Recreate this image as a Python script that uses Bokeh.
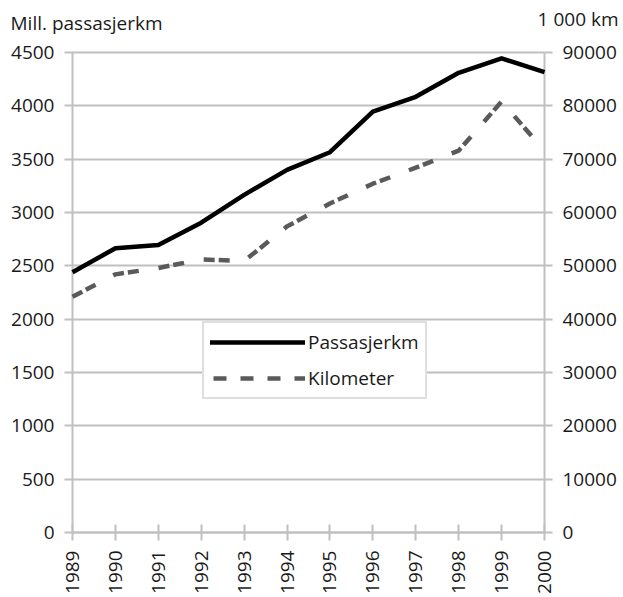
import math
from bokeh.plotting import figure
from bokeh.models import (Range1d, LinearAxis, FixedTicker, Legend, LegendItem, Label)
from bokeh.embed import file_html
from bokeh.resources import INLINE

# ---- data ----
years = [1989, 1990, 1991, 1992, 1993, 1994, 1995, 1996, 1997, 1998, 1999, 2000]
passasjerkm = [2440, 2665, 2695, 2905, 3165, 3400, 3565, 3945, 4085, 4310, 4445, 4315]
kilometer = [44200, 48400, 49600, 51200, 50900, 57400, 61700, 65400, 68400, 71600, 80800, 71600]
left_ticks = [0, 500, 1000, 1500, 2000, 2500, 3000, 3500, 4000, 4500]
right_ticks = [0, 10000, 20000, 30000, 40000, 50000, 60000, 70000, 80000, 90000]
left_title = "Mill. passasjerkm"
right_title = "1 000 km"
series_names = ["Passasjerkm", "Kilometer"]

# ---- layout / style ----
W, H = 623, 597
PL, PR, PT, PB = 72, 544, 52, 532      # plot area in page pixels
FONT = "Open Sans"
FS = "19px"
GRID = "#c0c0c0"
GRAY = "#5a5a5a"
TXT = "#1a1a1a"

x0, x1 = years[0], years[-1]
y0, y1 = left_ticks[0], left_ticks[-1]
k0, k1 = right_ticks[0], right_ticks[-1]
xpp = (x1 - x0) / (PR - PL)
ypp = (y1 - y0) / (PB - PT)
kpp = (k1 - k0) / (PB - PT)

p = figure(width=W, height=H, output_backend="svg", toolbar_location=None,
           x_range=Range1d(x0 - PL * xpp, x1 + (W - PR) * xpp),
           y_range=Range1d(y0 - (H - PB) * ypp, y1 + PT * ypp),
           min_border_left=0, min_border_right=0, min_border_top=0, min_border_bottom=0,
           x_axis_location=None, y_axis_location=None)
p.extra_y_ranges = {"km": Range1d(k0 - (H - PB) * kpp, k1 + PT * kpp)}
p.outline_line_color = None
p.background_fill_color = "white"
p.border_fill_color = "white"
p.xgrid.visible = False
p.ygrid.visible = False

def style_axis(ax):
    ax.axis_line_color = GRID
    ax.axis_line_width = 2
    ax.major_tick_line_color = GRID
    ax.major_tick_line_width = 2
    ax.minor_tick_line_color = None
    ax.major_label_text_font = FONT
    ax.major_label_text_font_size = FS
    ax.major_label_text_color = TXT

# left axis; its inward ticks serve as the horizontal grid lines
yaxis = LinearAxis(ticker=FixedTicker(ticks=left_ticks), fixed_location=x0, bounds=(y0, y1))
style_axis(yaxis)
yaxis.major_tick_in = PR - PL
yaxis.major_tick_out = 8
yaxis.major_label_standoff = 10
p.add_layout(yaxis, "left")

yaxis2 = LinearAxis(y_range_name="km", ticker=FixedTicker(ticks=right_ticks),
                    fixed_location=x1, bounds=(k0, k1))
style_axis(yaxis2)
yaxis2.major_tick_in = 0
yaxis2.major_tick_out = 8
yaxis2.major_label_standoff = 10
p.add_layout(yaxis2, "right")

xaxis = LinearAxis(ticker=FixedTicker(ticks=years), fixed_location=y0, bounds=(x0, x1))
style_axis(xaxis)
xaxis.major_tick_in = 8
xaxis.major_tick_out = 8
xaxis.major_label_orientation = math.pi / 2
xaxis.major_label_standoff = 10
p.add_layout(xaxis, "below")

# series (drawn above the grid)
r_km = p.line(years, kilometer, y_range_name="km", line_color=GRAY, line_width=4.5,
              line_dash="11 4 11 20", level="overlay")
r_pk = p.line(years, passasjerkm, line_color="black", line_width=4.5, line_join="round",
              level="overlay")

# legend samples (one NaN point each, so nothing is drawn in the plot)
nan = float("nan")
leg_pk = p.line([x0], [nan], line_color="black", line_width=4.5, line_cap="round")
leg_km = p.line([x0], [nan], line_color=GRAY, line_width=4.5, line_dash="13 14",
                line_dash_offset=-3)

legend = Legend(items=[LegendItem(label=series_names[0], renderers=[leg_pk]),
                       LegendItem(label=series_names[1], renderers=[leg_km])],
                location=(202, H - 399), orientation="vertical")
legend.border_line_color = GRID
legend.border_line_width = 2
legend.background_fill_color = "white"
legend.background_fill_alpha = 1
legend.padding = 6
legend.spacing = 10
legend.margin = 0
legend.glyph_width = 95
legend.glyph_height = 20
legend.label_height = 20
legend.label_standoff = 3
legend.label_text_font = FONT
legend.label_text_font_size = FS
legend.label_text_color = TXT
p.add_layout(legend, "center")

# axis titles
p.add_layout(Label(x=10, y=H - 22, x_units="screen", y_units="screen", text=left_title,
                   text_font=FONT, text_font_size=FS, text_color=TXT,
                   text_align="left", text_baseline="alphabetic"))
p.add_layout(Label(x=618, y=H - 18, x_units="screen", y_units="screen", text=right_title,
                   text_font=FONT, text_font_size=FS, text_color=TXT,
                   text_align="right", text_baseline="alphabetic"))

open("out.html", "w").write(file_html(p, INLINE))
